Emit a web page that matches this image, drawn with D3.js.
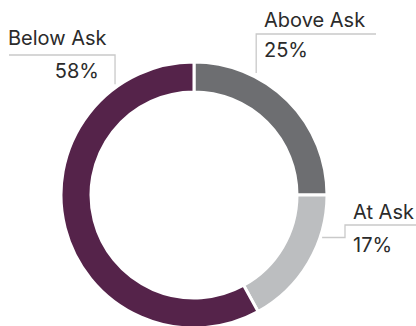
<!DOCTYPE html>
<html>
<head>
<meta charset="utf-8">
<script src="https://cdn.jsdelivr.net/npm/d3@7/dist/d3.min.js"></script>
<style>
  html, body { margin: 0; padding: 0; background: #fff; }
  svg { display: block; }
  text { font-family: Inter, "Open Sans", sans-serif; fill: #2b2b2b; }
</style>
</head>
<body>
<svg id="chart" width="416" height="326"></svg>
<script>
// Sale price relative to asking price
const categories = ["Above Ask", "At Ask", "Below Ask"];
const shares = [25, 17, 58];
const valueLabels = ["25%", "17%", "58%"];
const colors = ["#6d6e71", "#bcbec0", "#55234a"];

const width = 416, height = 326;
const cx = 194, cy = 195;
const outerR = 133, innerR = 103;

const svg = d3.select("#chart");
const g = svg.append("g").attr("transform", `translate(${cx},${cy})`);

const pie = d3.pie().sort(null).value(d => d.value);
const arcs = pie(categories.map((c, i) => ({ name: c, value: shares[i], label: valueLabels[i], color: colors[i] })));

const arc = d3.arc().innerRadius(innerR).outerRadius(outerR);

g.selectAll("path.slice")
  .data(arcs)
  .join("path")
  .attr("class", "slice")
  .attr("d", arc)
  .attr("fill", d => d.data.color)
  .attr("stroke", "#fff")
  .attr("stroke-width", 3);

// Callout layout: where each leader leaves the ring and where its text sits
const callouts = {
  "Above Ask": { frac: 0.30, r: 137, kind: "up", topY: 34, lineEnd: 376, textX: 264, nameY: 27, valY: 57 },
  "At Ask":    { frac: 0.30, r: 135, kind: "elbow", elbowX: 345, topY: 225, lineEnd: 416, textX: 353, nameY: 219, valY: 252 },
  "Below Ask": { frac: 0.83, r: 136, kind: "up", topY: 55, lineEnd: 9, textX: 8, nameY: 45, valY: 78, valX: 99 }
};

const lineColor = "#c9c9c9";
const fontSize = 20;

arcs.forEach(a => {
  const c = callouts[a.data.name];
  const ang = a.startAngle + (a.endAngle - a.startAngle) * c.frac;
  const px = cx + c.r * Math.sin(ang);
  const py = cy - c.r * Math.cos(ang);
  let pts;
  if (c.kind === "up") {
    pts = [[px, py], [px, c.topY], [c.lineEnd, c.topY]];
  } else {
    pts = [[px, py], [c.elbowX, py], [c.elbowX, c.topY], [c.lineEnd, c.topY]];
  }
  svg.append("path")
    .attr("d", d3.line()(pts))
    .attr("fill", "none")
    .attr("stroke", lineColor)
    .attr("stroke-width", 1.3);

  svg.append("text")
    .attr("x", c.textX)
    .attr("y", c.nameY)
    .attr("font-size", fontSize)
    .text(a.data.name);

  svg.append("text")
    .attr("x", c.valX !== undefined ? c.valX : c.textX)
    .attr("y", c.valY)
    .attr("text-anchor", c.valX !== undefined ? "end" : "start")
    .attr("font-size", fontSize)
    .text(a.data.label);
});
</script>
</body>
</html>
